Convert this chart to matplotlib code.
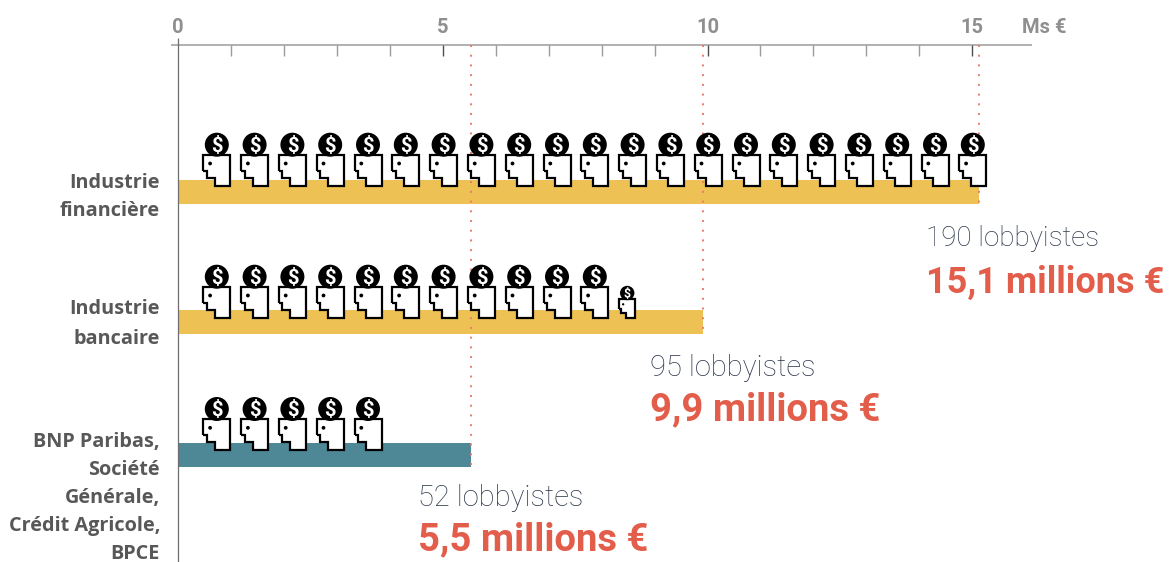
import matplotlib
matplotlib.use('Agg')
import matplotlib.pyplot as plt
from matplotlib.path import Path
from matplotlib.patches import PathPatch, Circle
from matplotlib.transforms import Affine2D

# Set data
categories = ['Industrie\nfinancière', 'Industrie\nbancaire',
              'BNP Paribas,\nSociété\nGénérale,\nCrédit Agricole,\nBPCE']
amounts = [15.12, 9.92, 5.54]
lobbyists = ['190 lobbyistes', '95 lobbyistes', '52 lobbyistes']
amount_labels = ['15,1 millions €', '9,9 millions €', '5,5 millions €']
icons_full = [21, 11, 5]
icons_small = [0, 1, 0]
bar_colors = ['#eec154', '#eec154', '#4e8896']
major_ticks = [0, 5, 10, 15]
minor_ticks = [1, 2, 3, 4, 6, 7, 8, 9, 11, 12, 13, 14]

W, H = 1176, 562
PX = 52.95      # pixels for 1 Ms
X0 = 178.0
ICON_STEP = 37.8 / PX

plt.rcParams['font.family'] = ['Roboto', 'DejaVu Sans']

fig = plt.figure(figsize=(W / 100, H / 100), dpi=100)
ax = fig.add_axes([0, 0, 1, 1])
ax.set_xlim(-X0 / PX, (W - X0) / PX)
ax.set_ylim(H, 0)   # y stays in pixels, x is in Ms
ax.axis('off')

bar_tops = [180, 310, 443]
bar_h = 24
label_y = [197, 324, 498]
label_space = [1.6, 1.6, 1.53]
note_y = [246, 376, 506]
amount_y = [293, 420, 550]
head_bottom = [185.5, 317.5, 449.8]
note_size = [20, 21, 21]
amount_size = [26, 27.5, 27.5]

# Axis
ax.hlines(44.5, -7 / PX, (1032 - X0) / PX, color='#a3a3a3', lw=1.2, zorder=2)
ax.vlines(0, 38, H, color='#6e6e6e', lw=0.9, zorder=5)
ax.vlines(minor_ticks, 44.5, 56, color='#9c9c9c', lw=1, zorder=2)
ax.vlines(major_ticks[1:], 44.5, 56, color='#4d4d4d', lw=1, zorder=2)
for t in major_ticks:
    ax.text(t, 33, str(t), ha='center', va='baseline', color='#8f8f8f',
            fontsize=14.5, fontweight='bold')
ax.text((1022 - X0) / PX, 33, 'Ms €', ha='left', va='baseline', color='#8f8f8f',
        fontsize=14.5, fontweight='bold')

# Bars and dotted guides
for i, a in enumerate(amounts):
    ax.barh(bar_tops[i] + bar_h / 2, a, height=bar_h, color=bar_colors[i], zorder=1)
    ax.vlines(a, 44.5, bar_tops[i] + bar_h, color='#ec7b6b', lw=1.4,
              linestyles=(0, (1, 4)), zorder=3)

# Head outline, origin at bottom left of the head, y going up, in pixels
head = Path([(0, 14.5), (0, 31), (27, 31), (27, 0), (11.5, 0), (11.5, 8),
             (3.5, 8), (3.5, 14.5), (0, 14.5)], closed=False)


def draw_icon(x, bottom, scale=1.0):
    # x is in Ms: left edge of the head
    dx, dy = ax.transData.transform((x, bottom))
    tr = Affine2D().scale(scale).translate(dx, dy)
    ax.add_patch(PathPatch(head, facecolor='white', edgecolor='black', lw=1.6,
                           joinstyle='miter', transform=tr, zorder=6))
    ax.add_patch(Circle((6.8, 22), 1.9, color='black', lw=0, transform=tr, zorder=7))
    ax.add_patch(Circle((13.5, 40.8), 12, color='black', lw=0, transform=tr, zorder=7))
    cx, cy = tr.transform((13.5, 40.8))
    fig.text(cx / W, cy / H, '$', color='white', fontsize=14 * scale + 0.5, fontweight='bold',
             ha='center', va='center_baseline', zorder=8, parse_math=False)


for i in range(3):
    for k in range(icons_full[i] + icons_small[i]):
        x = (k + 1) * ICON_STEP - 12.5 / PX
        draw_icon(x, head_bottom[i], 1.0 if k < icons_full[i] else 0.6)

# Labels
for i, c in enumerate(categories):
    ax.text(-18 / PX, label_y[i], c, ha='right', va='center', color='#585858',
            fontsize=14.3, fontweight='bold', linespacing=label_space[i],
            family=['Open Sans', 'DejaVu Sans'])
    ax.text(amounts[i] - 1, note_y[i], lobbyists[i], ha='left', va='baseline',
            color='#2f3a4d', fontsize=note_size[i], fontweight='light')
    ax.text(amounts[i] - 1, amount_y[i], amount_labels[i], ha='left', va='baseline',
            color='#e35d4b', fontsize=amount_size[i], fontweight='bold')

fig.savefig('out.png', dpi=100)
